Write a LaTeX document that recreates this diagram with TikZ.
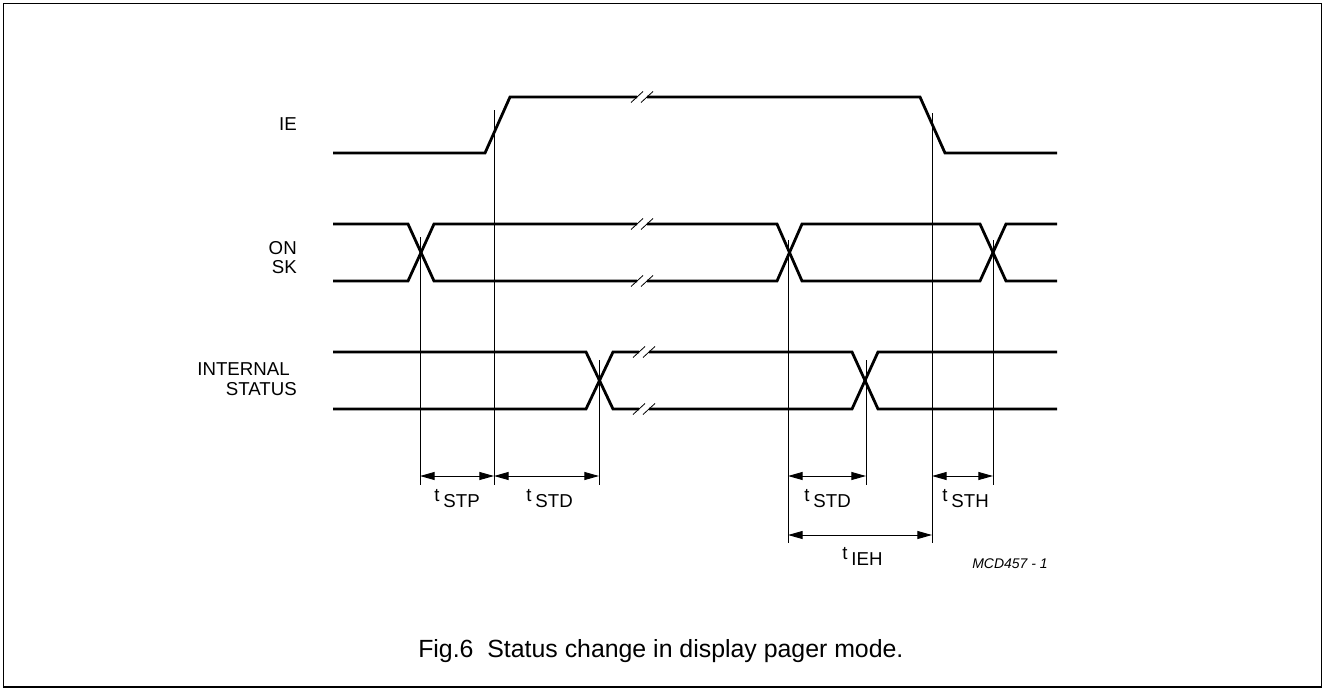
\documentclass[tikz,border=0pt]{standalone}
\usepackage{fontspec}
\setmainfont{Liberation Sans}
\usepackage{tikz}
\usetikzlibrary{arrows.meta}

\tikzset{
	signal/.style={line width=2.1pt},
	guide/.style={line width=0.7pt},
	dimline/.style={line width=0.7pt, {Triangle[length=11pt,width=6pt]}-{Triangle[length=11pt,width=6pt]}},
	brkmark/.style={line width=0.6pt},
	signame/.style={font=\fontsize{14}{17}\selectfont, inner sep=0pt},
	tname/.style={font=\fontsize{14}{17}\selectfont, inner sep=0pt, anchor=base west},
}
\newcommand{\tlab}[1]{\raisebox{4.5pt}{t}\hspace{3pt}#1}

\begin{document}
\begin{tikzpicture}[x=0.75pt,y=-0.75pt]
	\useasboundingbox (0,0) rectangle (1324,690);
	\draw[line width=1.2pt] (3.5,3.5) rectangle (1321.5,687);

	% Signal names
	\node[signame, anchor=base east] (ie) at (297,130) {IE};
	\node[signame, anchor=base east] (on) at (297,254) {ON};
	\node[signame, anchor=base east] (sk) at (297,273) {SK};
	\node[signame, anchor=base east] (internal) at (290,375) {INTERNAL};
	\node[signame, anchor=base east] (status) at (297,395) {STATUS};

	% IE
	\draw[signal] (333,153) -- (485,153) -- (510,97) -- (637,97);
	\draw[signal] (647,97) -- (920,97) -- (945,153) -- (1057,153);

	% ON / SK
	\draw[signal] (333,224) -- (408,224) -- (434,281) -- (637,281);
	\draw[signal] (333,281) -- (408,281) -- (434,224) -- (637,224);
	\draw[signal] (647,224) -- (777,224) -- (802,281) -- (980,281) -- (1006,224) -- (1057,224);
	\draw[signal] (647,281) -- (777,281) -- (802,224) -- (980,224) -- (1006,281) -- (1057,281);

	% Internal status
	\draw[signal] (333,352) -- (586,352) -- (613,409) -- (639,409);
	\draw[signal] (333,409) -- (586,409) -- (613,352) -- (639,352);
	\draw[signal] (649,352) -- (852,352) -- (878,409) -- (1057,409);
	\draw[signal] (649,409) -- (852,409) -- (878,352) -- (1057,352);

	% Break marks
	\foreach \bx/\by in {637/97, 637/224, 637/281, 639/352, 639/409} {
		\draw[brkmark] (\bx-6,\by+5.5) -- (\bx+6,\by-5.5);
		\draw[brkmark] (\bx+4,\by+5.5) -- (\bx+16,\by-5.5);
	}

	% Guide lines
	\foreach \gname/\gx/\gtop/\gbot in {g1/420/237/485, g2/494/110/485, g3/599/360/485,
		g4/788/240/543, g5/866/360/485, g6/932/113/543, g7/993/240/485} {
		\coordinate (\gname t) at (\gx,\gtop);
		\coordinate (\gname b) at (\gx,\gbot);
		\draw[guide] (\gname t) -- (\gname b);
	}
	\coordinate (row1) at (0,476);
	\coordinate (row2) at (0,535);

	% Timing arrows
	\draw[dimline] (g1t |- row1) -- (g2t |- row1);
	\draw[dimline] (g2t |- row1) -- (g3t |- row1);
	\draw[dimline] (g4t |- row1) -- (g5t |- row1);
	\draw[dimline] (g6t |- row1) -- (g7t |- row1);
	\draw[dimline] (g4t |- row2) -- (g6t |- row2);

	\node[tname] (tstp) at (434,507) {\tlab{STP}};
	\node[tname] (tstd1) at (526,507) {\tlab{STD}};
	\node[tname] (tstd2) at (804,507) {\tlab{STD}};
	\node[tname] (tsth) at (942,507) {\tlab{STH}};
	\node[tname] (tieh) at (842,565) {\tlab{IEH}};

	\node[inner sep=0pt, anchor=base west, font=\fontsize{10.5}{12}\selectfont\itshape] (code) at (972,568) {MCD457 - 1};

	\node[inner sep=0pt, anchor=base west, font=\fontsize{18.65}{22}\selectfont] (caption) at (418,657) {Fig.6~~Status change in display pager mode.};
\end{tikzpicture}
\end{document}
